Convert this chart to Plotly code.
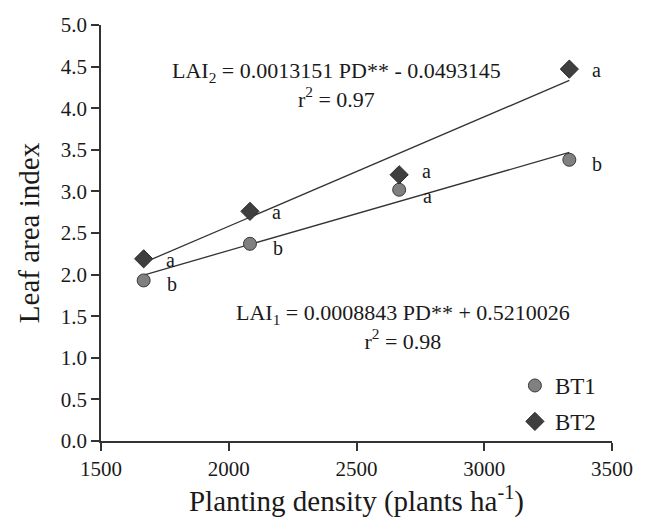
import plotly.graph_objects as go

# Data
density = [1667, 2083, 2667, 3333]
lai_bt1 = [1.93, 2.37, 3.02, 3.38]
lai_bt2 = [2.19, 2.76, 3.20, 4.47]
letters_bt1 = ["b", "b", "a", "b"]
letters_bt2 = ["a", "a", "a", "a"]
slope1, intercept1 = 0.0008843, 0.5210026
slope2, intercept2 = 0.0013151, -0.0493145
x_ticks = [1500, 2000, 2500, 3000, 3500]
y_ticks = [0.0, 0.5, 1.0, 1.5, 2.0, 2.5, 3.0, 3.5, 4.0, 4.5, 5.0]

FONT = "Liberation Serif"
TXT = "#1a1a1a"

x_fit = [min(density), max(density)]
fit1 = [slope1 * x + intercept1 for x in x_fit]
fit2 = [slope2 * x + intercept2 for x in x_fit]

fig = go.Figure()
fig.add_trace(go.Scatter(x=x_fit, y=fit1, mode="lines", line=dict(color="#333333", width=1.3),
                         showlegend=False, hoverinfo="skip"))
fig.add_trace(go.Scatter(x=x_fit, y=fit2, mode="lines", line=dict(color="#333333", width=1.3),
                         showlegend=False, hoverinfo="skip"))
fig.add_trace(go.Scatter(x=density, y=lai_bt1, mode="markers", name="BT1", legendgroup="g1",
                         marker=dict(symbol="circle", size=13, color="#808080",
                                     line=dict(color="#3a3a3a", width=1))))
fig.add_trace(go.Scatter(x=density, y=lai_bt2, mode="markers", name="BT2", legendgroup="g2",
                         marker=dict(symbol="diamond", size=14, color="#3f3f3f",
                                     line=dict(color="#2a2a2a", width=1))))

# label offsets (pixels); the crowded pair at the third density is spread apart a little
shift1 = {2: -6}
shift2 = {2: 4}
annotations = []
for i, (x, y, t) in enumerate(zip(density, lai_bt1, letters_bt1)):
    annotations.append(dict(x=x, y=y, text=t, showarrow=False, xshift=28, yshift=shift1.get(i, -4),
                            font=dict(family=FONT, size=20, color=TXT)))
for i, (x, y, t) in enumerate(zip(density, lai_bt2, letters_bt2)):
    annotations.append(dict(x=x, y=y, text=t, showarrow=False, xshift=27, yshift=shift2.get(i, -1),
                            font=dict(family=FONT, size=20, color=TXT)))

annotations += [
    dict(x=2423, y=4.28, text="LAI<sub>2</sub> = 0.0013151 PD** - 0.0493145<br>r<sup>2</sup> = 0.97",
         showarrow=False, align="center",
         font=dict(family=FONT, size=22, color=TXT)),
    dict(x=2681, y=1.37, text="LAI<sub>1</sub> = 0.0008843 PD** + 0.5210026<br>r<sup>2</sup> = 0.98",
         showarrow=False, align="center",
         font=dict(family=FONT, size=22, color=TXT)),
]

fig.update_layout(
    width=645, height=519,
    margin=dict(l=101, r=26, t=25, b=75),
    paper_bgcolor="white", plot_bgcolor="white",
    font=dict(family=FONT, color=TXT),
    annotations=annotations,
    legend=dict(x=0.81, y=0.185, xanchor="left", yanchor="top",
                font=dict(family=FONT, size=23, color=TXT),
                bgcolor="rgba(0,0,0,0)", tracegroupgap=3, itemwidth=30),
    xaxis=dict(range=[1500, 3500], tickvals=x_ticks, ticktext=[str(v) for v in x_ticks],
               showgrid=False, zeroline=False, showline=True, linecolor="#333333", linewidth=1.5,
               ticks="outside", ticklen=8, tickcolor="#333333", tickwidth=1.5,
               tickfont=dict(family=FONT, size=21, color=TXT),
               title=dict(text="Planting density (plants ha<sup>-1</sup>)",
                          font=dict(family=FONT, size=29, color=TXT), standoff=6)),
    yaxis=dict(range=[0, 5], tickvals=y_ticks, ticktext=[f"{v:.1f}" for v in y_ticks],
               showgrid=False, zeroline=False, showline=True, linecolor="#333333", linewidth=1.5,
               ticks="outside", ticklen=8, tickcolor="#333333", tickwidth=1.5,
               tickfont=dict(family=FONT, size=21, color=TXT),
               title=dict(text="Leaf area index",
                          font=dict(family=FONT, size=29, color=TXT), standoff=13)),
)

fig.write_html("out.html")
